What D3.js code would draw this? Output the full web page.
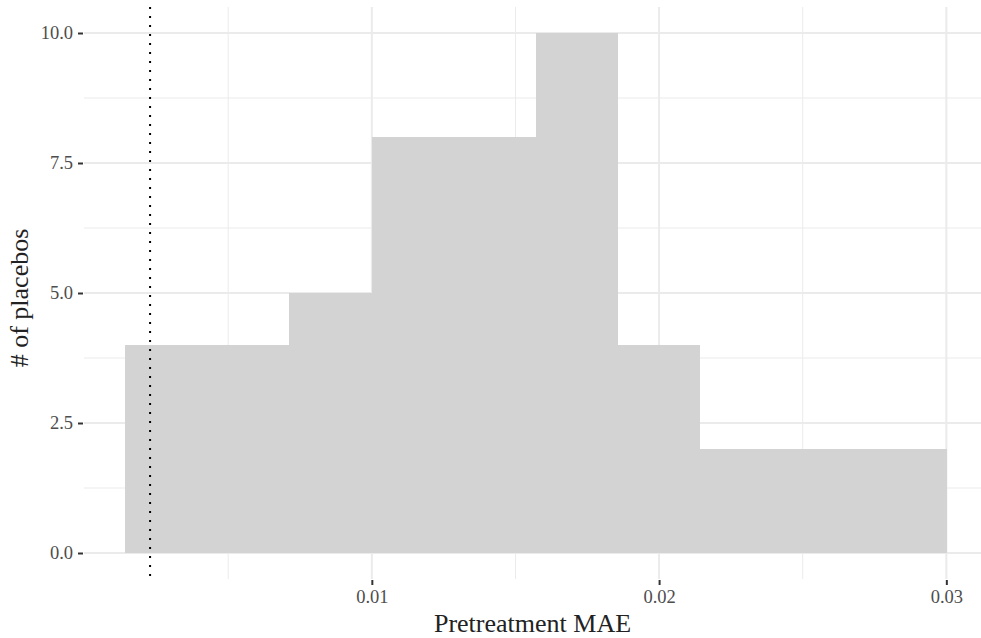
<!DOCTYPE html>
<html><head><meta charset="utf-8">
<script src="https://cdn.jsdelivr.net/npm/d3@7"></script>
<style>body{margin:0;background:#fff}svg{display:block}text{font-family:"Liberation Serif",serif}</style>
</head><body><svg id="c" width="981" height="638"></svg>
<script>
const binEdges = [0.00141, 0.00427, 0.00713, 0.01000, 0.01286, 0.01572, 0.01858, 0.02144, 0.02430, 0.02716, 0.03002];
const binCounts = [4, 4, 5, 8, 8, 10, 4, 2, 2, 2];
const refLine = 0.00228;
const xTicks = [0.01, 0.02, 0.03];
const xMinor = [0.005, 0.015, 0.025];
const yTicks = [0, 2.5, 5, 7.5, 10];
const yMinor = [1.25, 3.75, 6.25, 8.75];
const xTitle = "Pretreatment MAE";
const yTitle = "# of placebos";

const svg = d3.select("#c");
const L = 84, R = 988, T = 7, B = 579;
const xr = [binEdges[0], binEdges[binEdges.length-1]];
const xe = (xr[1]-xr[0])*0.05;
const x = d3.scaleLinear().domain([xr[0]-xe, xr[1]+xe]).range([L, R]);
const ymax = d3.max(binCounts);
const y = d3.scaleLinear().domain([-ymax*0.05, ymax*1.05]).range([B, T]);

const g = svg.append("g");
g.selectAll(".xm").data(xMinor).join("line").attr("x1",d=>x(d)).attr("x2",d=>x(d)).attr("y1",T).attr("y2",B).attr("stroke","#ebebeb").attr("stroke-width",1);
g.selectAll(".ym").data(yMinor).join("line").attr("y1",d=>y(d)).attr("y2",d=>y(d)).attr("x1",L).attr("x2",R).attr("stroke","#ebebeb").attr("stroke-width",1);
g.selectAll(".xM").data(xTicks).join("line").attr("x1",d=>x(d)).attr("x2",d=>x(d)).attr("y1",T).attr("y2",B).attr("stroke","#ebebeb").attr("stroke-width",2);
g.selectAll(".yM").data(yTicks).join("line").attr("y1",d=>y(d)).attr("y2",d=>y(d)).attr("x1",L).attr("x2",R).attr("stroke","#ebebeb").attr("stroke-width",2);

g.selectAll(".bar").data(binCounts).join("rect")
  .attr("x",(d,i)=>x(binEdges[i])).attr("width",(d,i)=>x(binEdges[i+1])-x(binEdges[i]))
  .attr("y",d=>y(d)).attr("height",d=>y(0)-y(d)).attr("fill","#d3d3d3").attr("shape-rendering","crispEdges");

g.append("line").attr("x1",x(refLine)).attr("x2",x(refLine)).attr("y1",T).attr("y2",B)
  .attr("stroke","#000").attr("stroke-width",2).attr("stroke-dasharray","2,7");

const xAxis = d3.axisBottom(x).tickValues(xTicks).tickSize(5).tickPadding(5).tickFormat(d3.format(".2f"));
const xa = svg.append("g").attr("transform",`translate(0,${B+1})`).call(xAxis);
xa.select(".domain").remove();
xa.selectAll("line").attr("stroke","#333").attr("stroke-width",2);
xa.selectAll("text").attr("fill","#4d4d4d").style("font-size","18.5px").style("font-family","Liberation Serif");

const yAxis = d3.axisLeft(y).tickValues(yTicks).tickSize(5).tickPadding(5).tickFormat(d3.format(".1f"));
const ya = svg.append("g").attr("transform",`translate(${L-1},0)`).call(yAxis);
ya.select(".domain").remove();
ya.selectAll("line").attr("stroke","#333").attr("stroke-width",2);
ya.selectAll("text").attr("fill","#4d4d4d").style("font-size","18.5px").style("font-family","Liberation Serif");

svg.append("text").attr("x",(L+981)/2).attr("y",632).attr("text-anchor","middle").attr("fill","#222").style("font-size","26px").text(xTitle);
svg.append("text").attr("transform",`translate(28,${(T+B)/2+5}) rotate(-90)`).attr("text-anchor","middle").attr("fill","#222").style("font-size","26px").text(yTitle);
</script></body></html>
